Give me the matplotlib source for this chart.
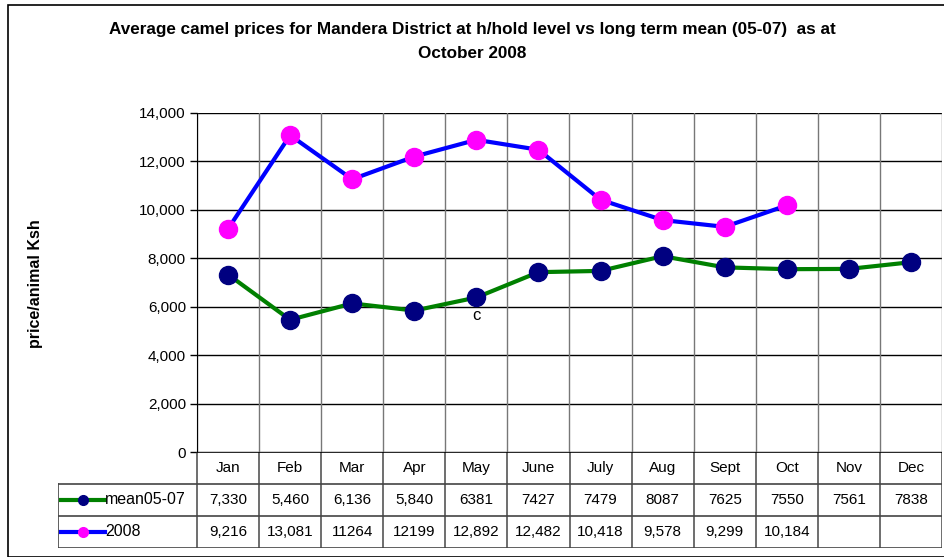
import numpy as np
import matplotlib.pyplot as plt

plt.rcParams["font.family"] = ["Liberation Sans", "DejaVu Sans"]

months = ["Jan", "Feb", "Mar", "Apr", "May", "June", "July", "Aug", "Sept", "Oct", "Nov", "Dec"]
mean_05_07 = [7330, 5460, 6136, 5840, 6381, 7427, 7479, 8087, 7625, 7550, 7561, 7838]
prices_2008 = [9216, 13081, 11264, 12199, 12892, 12482, 10418, 9578, 9299, 10184]
mean_labels = ["7,330", "5,460", "6,136", "5,840", "6381", "7427", "7479", "8087", "7625", "7550", "7561", "7838"]
labels_2008 = ["9,216", "13,081", "11264", "12199", "12,892", "12,482", "10,418", "9,578", "9,299", "10,184", "", ""]
yticks = np.arange(0, 14001, 2000)

W, H = 944, 557
fig = plt.figure(figsize=(W / 100, H / 100), dpi=100)

# outer chart frame
fig.add_artist(plt.Rectangle((8 / W, 0), 1.2, (H - 5) / H, transform=fig.transFigure,
                             fill=False, ec="black", lw=1.2))

left, right, top, bottom = 197, 942, 113, 452
ax = fig.add_axes([left / W, (H - bottom) / H, (right - left) / W, (bottom - top) / H])
x = np.arange(len(months))
ax.set_xlim(-0.5, 11.5)
ax.set_ylim(0, 14000)
ax.set_yticks(yticks)
ax.set_yticklabels([f"{v:,}" for v in yticks], fontsize=11)
ax.tick_params(axis="y", length=5, width=1, color="black", pad=3)
ax.set_xticks([])
for v in yticks:
    ax.axhline(v, color="black", lw=1, zorder=1)
for b in np.arange(-0.5, 12, 1):
    ax.axvline(b, color="#777777", lw=1, zorder=1)
for s in ["top", "right", "bottom"]:
    ax.spines[s].set_visible(False)
ax.spines["left"].set_color("black")

ax.plot(x, mean_05_07, color="green", lw=3, marker="o", ms=13,
        mfc="#000080", mec="#000080", zorder=3)
ax.plot(x[:len(prices_2008)], prices_2008, color="blue", lw=3, marker="o", ms=13,
        mfc="#ff00ff", mec="#ff00ff", zorder=3)
ax.text(4, 5620, "c", ha="center", va="center", fontsize=12)

ax.set_ylabel("price/animal Ksh", fontsize=11.5, fontweight="bold")
ax.yaxis.set_label_coords((43 - left) / (right - left), (452 - 284) / (bottom - top))

fig.suptitle("Average camel prices for Mandera District at h/hold level vs long term mean (05-07)  as at\nOctober 2008",
             y=1 - 22 / H, fontsize=12.3, fontweight="bold", linespacing=1.75, va="top")

# data table below the plot
tleft, tbottom = 58, 548
unit = (right - left) / 12
tab = fig.add_axes([tleft / W, (H - tbottom) / H, (right - tleft) / W, (tbottom - bottom) / H])
lab_w = (left - tleft) / unit
tab.set_xlim(-0.5 - lab_w, 11.5)
tab.set_ylim(3, 0)
tab.axis("off")
edge = "#444444"
for b in np.arange(-0.5, 12, 1):
    tab.plot([b, b], [0, 3], color="#555555", lw=1.2)
tab.plot([-0.5 - lab_w, -0.5 - lab_w], [1, 3], color=edge, lw=1.2)
for r in [1, 2, 3]:
    tab.plot([-0.5 - lab_w, 11.5], [r, r], color=edge, lw=1.2)
tab.plot([-0.5, 11.5], [0, 0], color="black", lw=1.2)
for i, m in enumerate(months):
    tab.text(i, 0.5, m, ha="center", va="center", fontsize=11)
    tab.text(i, 1.5, mean_labels[i], ha="center", va="center", fontsize=11)
    tab.text(i, 2.5, labels_2008[i], ha="center", va="center", fontsize=11)

kx0 = -0.5 - lab_w + 0.05
kx1 = kx0 + 0.7
tab.plot([kx0, kx1], [1.5, 1.5], color="green", lw=3)
tab.plot([(kx0 + kx1) / 2], [1.5], marker="o", ms=7, color="#000080")
tab.plot([kx0, kx1], [2.5, 2.5], color="blue", lw=3)
tab.plot([(kx0 + kx1) / 2], [2.5], marker="o", ms=7, color="#ff00ff")
tab.text(kx1 + 0.01, 1.5, "mean05-07", ha="left", va="center", fontsize=11.5)
tab.text(kx1 + 0.01, 2.5, "2008", ha="left", va="center", fontsize=11.5)

fig.savefig("out.png", dpi=100)
